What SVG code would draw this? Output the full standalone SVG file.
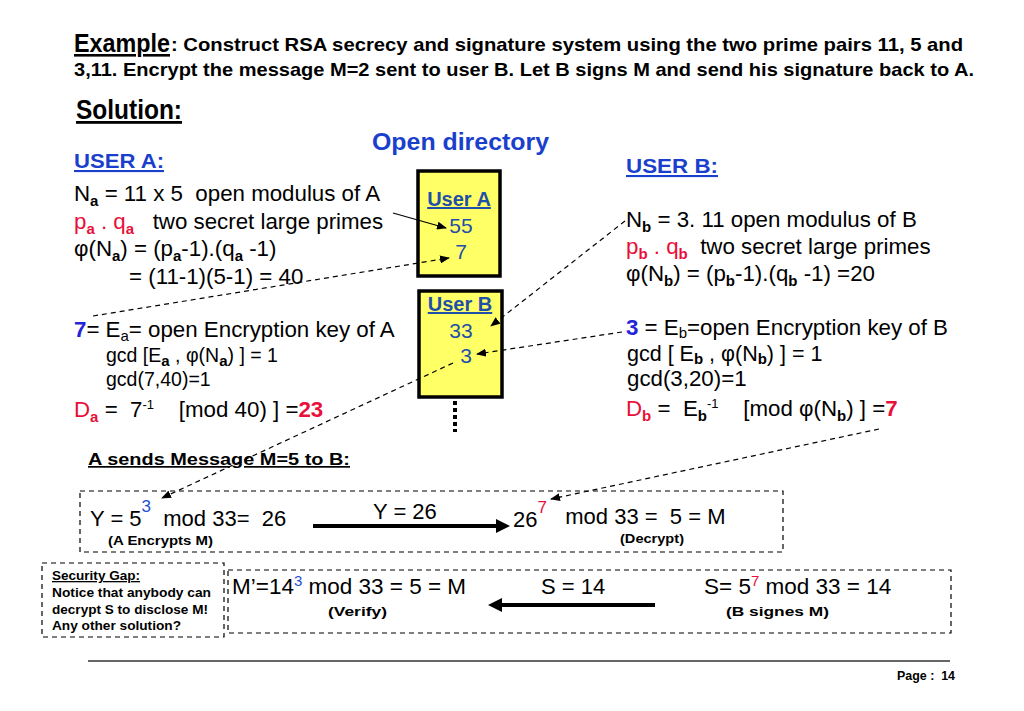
<svg xmlns="http://www.w3.org/2000/svg" width="1024" height="711" viewBox="0 0 1024 711">
<style>
text{font-family:"Liberation Sans",Arial,sans-serif;fill:#000}
.t20{font-size:22.3px}
.t22{font-size:22px}
.t16{font-size:19.5px}
.sb{font-size:15px;font-weight:bold}
.sr{font-size:15px}
.sp{font-size:13px}
.red{fill:#e8103a}
.rb{fill:#e8103a;font-weight:bold}
.bb{fill:#2323d8;font-weight:bold}
.hd{font-weight:bold;fill:#1a3fcc;text-decoration:underline}
.bx{fill:#ffff66;stroke:#000;stroke-width:3.5}
.bt{fill:#1f4fa8;font-size:21px;text-anchor:middle}
.bth{fill:#1f4fa8;font-size:20px;font-weight:bold;text-anchor:middle;text-decoration:underline}
.nb{font-weight:bold;font-size:13px}
.dash{fill:none;stroke:#000;stroke-width:1.2;stroke-dasharray:5,4}
.conn{fill:none;stroke:#000;stroke-width:1.2}
.cd{stroke-dasharray:5,4}
</style>
<defs>
<marker id="ah" markerWidth="10" markerHeight="8" refX="9" refY="4" orient="auto" markerUnits="userSpaceOnUse"><path d="M0,0 L10,4 L0,8 z" fill="#000"/></marker>
<marker id="big" markerWidth="14" markerHeight="14" refX="2" refY="7" orient="auto" markerUnits="userSpaceOnUse"><path d="M0,0 L14,7 L0,14 z" fill="#000"/></marker>
</defs>
<rect width="1024" height="711" fill="#fff"/>

<g id="title">
<text x="74" y="52" font-size="26" font-weight="bold" textLength="96" lengthAdjust="spacingAndGlyphs" text-decoration="underline">Example</text>
<text x="171" y="51" font-size="19" font-weight="bold" textLength="792" lengthAdjust="spacingAndGlyphs">: Construct RSA secrecy and signature system using the two prime pairs 11, 5 and</text>
<text x="74" y="76" font-size="19" font-weight="bold" textLength="900" lengthAdjust="spacingAndGlyphs">3,11. Encrypt the message M=2 sent to user B. Let B signs M and send his signature back to A.</text>
<text x="76" y="119" font-size="28" font-weight="bold" textLength="106" lengthAdjust="spacingAndGlyphs" text-decoration="underline">Solution:</text>
</g>

<g id="open-directory">
<text x="372" y="150" font-size="23" font-weight="bold" textLength="177" lengthAdjust="spacingAndGlyphs" style="fill:#1a3fcc">Open directory</text>
</g>

<g id="user-a">
<text x="74" y="168" font-size="21" class="hd" textLength="90" lengthAdjust="spacingAndGlyphs" style="fill:#1a3fcc">USER A:</text>
<text x="74" y="201" class="t20" xml:space="preserve">N<tspan class="sb" dy="5">a</tspan><tspan dy="-5"> = 11 x 5  open modulus of A</tspan></text>
<text x="74" y="229" class="t20" xml:space="preserve"><tspan class="red">p</tspan><tspan class="sb red" dy="5">a</tspan><tspan class="red" dy="-5"> . q</tspan><tspan class="sb red" dy="5">a</tspan><tspan dy="-5">   two secret large primes</tspan></text>
<text x="74" y="256" class="t20" xml:space="preserve">φ(N<tspan class="sb" dy="5">a</tspan><tspan dy="-5">) = (p</tspan><tspan class="sb" dy="5">a</tspan><tspan dy="-5">-1).(q</tspan><tspan class="sb" dy="5">a</tspan><tspan dy="-5"> -1)</tspan></text>
<text x="129" y="284" class="t20" xml:space="preserve">= (11-1)(5-1) = 40</text>
<text x="74" y="337" class="t20" xml:space="preserve"><tspan class="bb">7</tspan>= E<tspan class="sr" font-size="14" dy="4">a</tspan><tspan dy="-4">= open Encryption key of A</tspan></text>
<text x="106" y="362" class="t16" xml:space="preserve">gcd [E<tspan class="sb" font-size="14" dy="4">a</tspan><tspan dy="-4"> , φ(N</tspan><tspan class="sb" font-size="14" dy="4">a</tspan><tspan dy="-4">) ] = 1</tspan></text>
<text x="106" y="386" class="t16">gcd(7,40)=1</text>
<text x="74" y="417" class="t20" xml:space="preserve"><tspan class="red">D</tspan><tspan class="sb red" dy="5">a</tspan><tspan dy="-5"> =  7</tspan><tspan class="sp" dy="-8">-1</tspan><tspan dy="8">    [mod 40) ] =</tspan><tspan class="rb">23</tspan></text>
</g>

<g id="dir-user-a">
<rect class="bx" x="418" y="171" width="82" height="105"/>
<text x="459" y="206" class="bth">User A</text>
<text x="461" y="233" class="bt">55</text>
<text x="461" y="259" class="bt">7</text>
</g>

<g id="dir-user-b">
<rect class="bx" x="419" y="291" width="83" height="106"/>
<text x="460" y="311" class="bth">User B</text>
<text x="461" y="338" class="bt">33</text>
<text x="466" y="363" class="bt">3</text>
<line x1="455" y1="401" x2="455" y2="432" stroke="#000" stroke-width="4" stroke-dasharray="4,3"/>
</g>

<g id="user-b">
<text x="626" y="173" font-size="21" class="hd" textLength="92" lengthAdjust="spacingAndGlyphs" style="fill:#1a3fcc">USER B:</text>
<text x="626" y="227" class="t20" xml:space="preserve">N<tspan class="sb" dy="5">b</tspan><tspan dy="-5"> = 3. 11 open modulus of B</tspan></text>
<text x="626" y="254" class="t20" xml:space="preserve"><tspan class="red">p</tspan><tspan class="sb red" dy="5">b</tspan><tspan class="red" dy="-5"> . q</tspan><tspan class="sb red" dy="5">b</tspan><tspan dy="-5">  two secret large primes</tspan></text>
<text x="626" y="281" class="t20" xml:space="preserve">φ(N<tspan class="sb" dy="5">b</tspan><tspan dy="-5">) = (p</tspan><tspan class="sb" dy="5">b</tspan><tspan dy="-5">-1).(q</tspan><tspan class="sb" dy="5">b</tspan><tspan dy="-5"> -1) =20</tspan></text>
<text x="626" y="335" class="t20" xml:space="preserve"><tspan class="bb">3</tspan> = E<tspan class="sr" font-size="14" dy="3">b</tspan><tspan dy="-3">=open Encryption key of B</tspan></text>
<text x="627" y="361" font-size="21.5" xml:space="preserve">gcd [ E<tspan class="sb" font-size="14" dy="3">b</tspan><tspan dy="-3"> , φ(N</tspan><tspan class="sb" font-size="14" dy="3">b</tspan><tspan dy="-3">) ] = 1</tspan></text>
<text x="627" y="386" class="t20">gcd(3,20)=1</text>
<text x="626" y="416" class="t20" xml:space="preserve"><tspan class="red">D</tspan><tspan class="sb red" dy="5">b</tspan><tspan dy="-5"> =  E</tspan><tspan class="sb" dy="5">b</tspan><tspan class="sp" dy="-13">-1</tspan><tspan dy="8">    [mod φ(N</tspan><tspan class="sb" dy="5">b</tspan><tspan dy="-5">) ] =</tspan><tspan class="rb">7</tspan></text>
</g>

<g id="send-message">
<text x="88" y="465" font-size="17" font-weight="bold" textLength="262" lengthAdjust="spacingAndGlyphs" text-decoration="underline">A sends Message M=5 to B:</text>
<rect class="dash" x="80" y="491" width="703" height="61"/>
<text x="90" y="526" class="t22" xml:space="preserve">Y = 5<tspan font-size="17" fill="#1f4fd0" dy="-14">3</tspan><tspan dy="14">  mod 33=  26</tspan></text>
<text x="108" y="545" class="nb" textLength="105" lengthAdjust="spacingAndGlyphs">(A Encrypts M)</text>
<text x="373" y="519" class="t22">Y = 26</text>
<text x="513" y="527" class="t22" xml:space="preserve">26<tspan font-size="17" class="red" dy="-14">7</tspan><tspan dy="11">   mod 33 =  5 = M</tspan></text>
<text x="620" y="543" class="nb" textLength="64" lengthAdjust="spacingAndGlyphs">(Decrypt)</text>
</g>

<g id="security-gap">
<rect class="dash" x="42" y="563" width="182" height="74"/>
<text x="52" y="580" class="nb" text-decoration="underline" textLength="88" lengthAdjust="spacingAndGlyphs">Security Gap:</text>
<text x="52" y="597" class="nb" textLength="159" lengthAdjust="spacingAndGlyphs">Notice that anybody can</text>
<text x="52" y="614" class="nb" textLength="156" lengthAdjust="spacingAndGlyphs">decrypt S to disclose M!</text>
<text x="52" y="630" class="nb" textLength="129" lengthAdjust="spacingAndGlyphs">Any other solution?</text>
</g>

<g id="signature">
<rect class="dash" x="228" y="570" width="723" height="63"/>
<text x="232" y="594" font-size="22.5" xml:space="preserve">M’=14<tspan font-size="15" fill="#1f4fd0" dy="-8">3</tspan><tspan dy="8"> mod 33 = 5 = M</tspan></text>
<text x="328" y="616" class="nb" font-size="14" textLength="59" lengthAdjust="spacingAndGlyphs">(Verify)</text>
<text x="541" y="594" class="t22">S = 14</text>
<text x="704" y="594" font-size="22.5" xml:space="preserve">S= 5<tspan font-size="15" class="red" dy="-8">7</tspan><tspan dy="8"> mod 33 = 14</tspan></text>
<text x="726" y="616" class="nb" font-size="14" textLength="103" lengthAdjust="spacingAndGlyphs">(B signes M)</text>
</g>

<g id="connectors">
<line class="conn" x1="393" y1="213" x2="446" y2="228" marker-end="url(#ah)"/>
<line class="conn cd" x1="93" y1="316" x2="449" y2="258" marker-end="url(#ah)"/>
<line class="conn cd" x1="625" y1="221" x2="491" y2="326" marker-end="url(#ah)"/>
<line class="conn cd" x1="622" y1="332" x2="477" y2="354" marker-end="url(#ah)"/>
<line class="conn cd" x1="453" y1="363" x2="162" y2="498" marker-end="url(#ah)"/>
<line class="conn cd" x1="879" y1="429" x2="551" y2="499" marker-end="url(#ah)"/>
<line x1="313" y1="526" x2="498" y2="526" stroke="#000" stroke-width="4" marker-end="url(#big)"/>
<line x1="655" y1="605" x2="500" y2="605" stroke="#000" stroke-width="4" marker-end="url(#big)"/>
</g>

<g id="footer">
<line x1="88" y1="661" x2="950" y2="661" stroke="#333" stroke-width="1.5"/>
<text x="897" y="680" font-size="13" font-weight="bold" textLength="58" lengthAdjust="spacingAndGlyphs" xml:space="preserve">Page :  14</text>
</g>
</svg>
